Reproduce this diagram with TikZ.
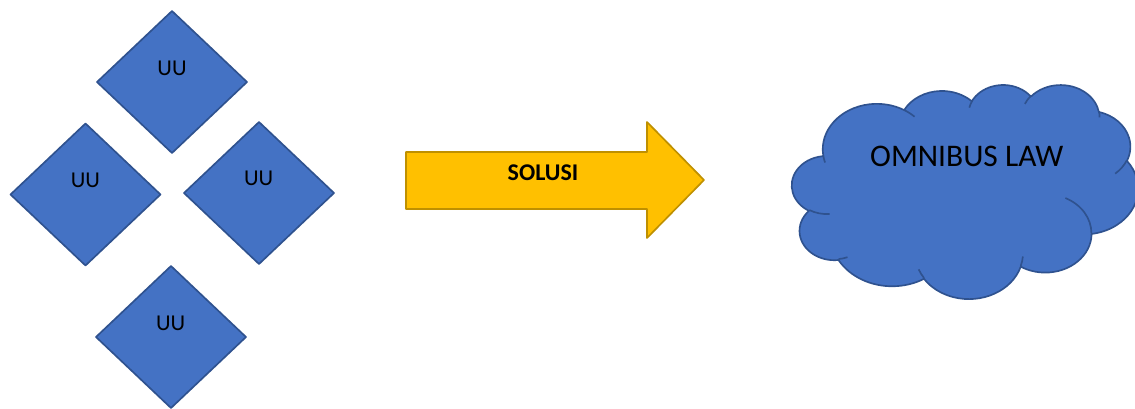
\documentclass[tikz,border=0pt]{standalone}
\usepackage{fontspec}
\setmainfont{Carlito}
\usetikzlibrary{shapes.geometric}

\definecolor{uublue}{HTML}{4472C4}
\definecolor{uuedge}{HTML}{2F528F}
\definecolor{arrowfill}{HTML}{FFC000}
\definecolor{arrowedge}{HTML}{BF9000}

% elliptical arc given by its visual start angle and sweep (radii wR, hR)
\newcommand\cloudarc[4]{%
  arc[x radius=#1, y radius=#2,
      start angle={atan2((#1)*sin(#3),(#2)*cos(#3))},
      delta angle={mod(atan2((#1)*sin((#3)+(#4)),(#2)*cos((#3)+(#4)))-atan2((#1)*sin(#3),(#2)*cos(#3))+720,360)}]}

\begin{document}
\begin{tikzpicture}[x=0.75pt,y=0.75pt,yscale=-1,
  shapeline/.style={line width=1.25pt, line join=round},
  uubox/.style={shape=diamond, draw=uuedge, fill=uublue, shapeline,
    minimum width=112.5pt, minimum height=106.5pt, inner sep=0pt, outer sep=0pt},
  uutext/.style={font=\fontsize{17}{20}\selectfont, text=black, inner sep=0pt},
  soltext/.style={font=\fontsize{18}{21}\selectfont\bfseries, text=black, inner sep=0pt},
  lawtext/.style={font=\fontsize{23.6}{28}\selectfont, text=black, inner sep=0pt}]

\clip (0,0) rectangle (1135,408);

% four laws
\node[uubox] (d1) at (172,82) {};
\node[uubox] (d2) at (85.5,194.5) {};
\node[uubox] (d3) at (259,193) {};
\node[uubox] (d4) at (171,337) {};
\node[uutext] (t1) at (172,68.3) {UU};
\node[uutext] (t2) at (85.3,180) {UU};
\node[uutext] (t3) at (258.6,178.4) {UU};
\node[uutext] (t4) at (170.6,323.3) {UU};

% block arrow
\draw[shapeline, draw=arrowedge, fill=arrowfill]
  (406,152) -- (647,152) -- (647,122) -- (704,180) -- (647,238)
  -- (647,209) -- (406,209) -- cycle;
\node[soltext] (sol) at (543,172.5) {SOLUSI};

% cloud
\begin{scope}[shift={(792,84.3)}, x=0.6007pt, y=0.37153pt]
  \draw[shapeline, draw=uuedge, fill=uublue]
    (39.00,143.70)
    \cloudarc{67.53}{91.90}{-190.4875}{123.7805}
    \cloudarc{53.33}{72.67}{-144.1024}{89.9452}
    \cloudarc{43.65}{59.45}{-145.8079}{99.7230}
    \cloudarc{48.57}{65.95}{-130.9861}{117.2417}
    \cloudarc{53.33}{72.73}{-78.7089}{109.0269}
    \cloudarc{67.75}{92.20}{-46.2673}{130.2690}
    \cloudarc{57.85}{78.67}{0.6250}{114.0333}
    \cloudarc{67.52}{92.15}{22.4516}{115.1726}
    \cloudarc{77.20}{105.43}{66.2426}{75.7110}
    \cloudarc{43.60}{59.18}{-274.9421}{146.7356}
    \cloudarc{43.45}{59.45}{-246.8285}{152.5189}
    -- cycle;
  \draw[shapeline, draw=uuedge]
    (46.93,261.77) \cloudarc{43.45}{59.45}{86.7420}{26.4295}
    (69.28,348.99) \cloudarc{43.60}{59.18}{73.6105}{11.4475}
    (164.78,390.90) \cloudarc{67.52}{92.15}{137.6242}{14.0811}
    (288.27,347.51) \cloudarc{67.52}{92.15}{6.4533}{15.9984}
    (341.29,229.54) \cloudarc{57.85}{78.67}{-70.2924}{70.9174}
    (417.98,153.54) \cloudarc{53.33}{72.73}{30.3180}{27.7515}
    (383.24,54.26) \cloudarc{48.57}{65.95}{-13.7443}{14.8589}
    (290.78,39.52) \cloudarc{48.57}{65.95}{-149.1815}{18.1954}
    (221.41,47.20) \cloudarc{43.65}{59.45}{-163.4943}{17.6864}
    (140.00,51.92) \cloudarc{67.53}{91.90}{-66.7070}{12.3194}
    (41.27,157.89) \cloudarc{67.53}{91.90}{157.6544}{11.8582};
\end{scope}
\node[lawtext] (law) at (966.7,156.2) {OMNIBUS LAW};

\end{tikzpicture}
\end{document}
